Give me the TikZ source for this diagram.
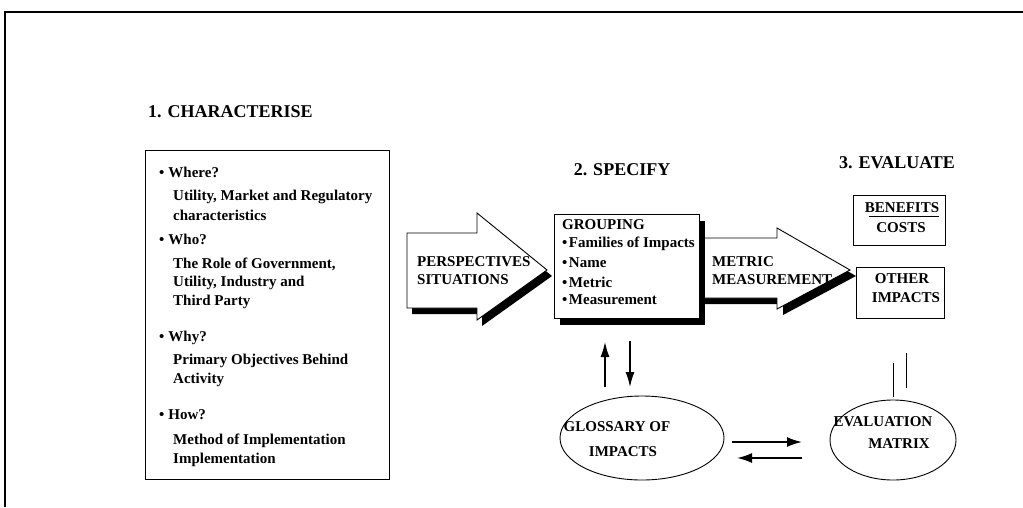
\documentclass[tikz,border=0pt]{standalone}
\usepackage{fontspec}
\setmainfont{Liberation Serif}
\usetikzlibrary{arrows.meta,shapes.geometric}
\begin{document}
\begin{tikzpicture}[x=1pt,y=-1pt,
  txt/.style={font=\bfseries\fontsize{15}{17}\selectfont, inner sep=0pt, anchor=west},
  ctxt/.style={font=\bfseries\fontsize{15}{17}\selectfont, inner sep=0pt},
  ttl/.style={font=\bfseries\fontsize{18}{20}\selectfont, inner sep=0pt},
  boxstyle/.style={draw, line width=0.9pt, fill=white, inner sep=0pt, anchor=north west},
  shadowfill/.style={fill=black},
  blockarrow/.style={draw, line width=0.9pt, fill=white, line join=miter},
  oval/.style={draw, ellipse, line width=0.9pt, inner sep=0pt},
  vconn/.style={line width=1.3pt, -{Latex[length=15pt,width=9pt]}},
  hconn/.style={line width=1.8pt, -{Latex[length=15pt,width=10pt]}},
  plainline/.style={line width=1pt}
]
\useasboundingbox (0,0) rectangle (1023,507);
% outer frame (top and left edges)
\draw[line width=1.8pt] (5,507) -- (5,12) -- (1023,12);

% ---------- 1. CHARACTERISE ----------
\node[ttl, anchor=west] (t1) at (148,112) {1. CHARACTERISE};
\node[boxstyle, minimum width=244pt, minimum height=329pt] (charbox) at (145,150) {};
\node[txt] (w1) at (159,172) {•\hspace{4pt}Where?};
\node[txt] (w2) at (173,197) {Utility, Market and Regulatory};
\node[txt] (w3) at (173,215) {characteristics};
\node[txt] (h1) at (159,239) {•\hspace{4pt}Who?};
\node[txt] (h2) at (173,264) {The Role of Government,};
\node[txt] (h3) at (173,283) {Utility, Industry and};
\node[txt] (h4) at (173,302) {Third Party};
\node[txt] (y1) at (159,338) {•\hspace{4pt}Why?};
\node[txt] (y2) at (173,361) {Primary Objectives Behind};
\node[txt] (y3) at (173,380) {Activity};
\node[txt] (o1) at (159,415) {•\hspace{4pt}How?};
\node[txt] (o2) at (173,441) {Method of Implementation};
\node[txt] (o3) at (173,460) {Implementation};

% ---------- block arrow 1 ----------
\fill[shadowfill] (412,239) -- (482,239) -- (482,219) -- (552,276) -- (482,326) -- (482,314) -- (412,314) -- cycle;
\draw[blockarrow] (407,233) -- (477,233) -- (477,213) -- (547,270) -- (477,320) -- (477,308) -- (407,308) -- cycle;
\node[txt] (p1) at (417,262) {PERSPECTIVES};
\node[txt] (p2) at (417,280) {SITUATIONS};

% ---------- 2. SPECIFY ----------
\node[ttl] (t2) at (622,170) {2. SPECIFY};
\fill[shadowfill] (560,221) rectangle (705,325);
\node[boxstyle, minimum width=145pt, minimum height=104pt] (group) at (554,214) {};
\node[txt] (g0) at (562,225) {GROUPING};
\node[txt] (g1) at (562,244) {•\hspace{1.5pt}Families of Impacts};
\node[txt] (g2) at (562,263) {•\hspace{1.5pt}Name};
\node[txt] (g3) at (562,282) {•\hspace{1.5pt}Metric};
\node[txt] (g4) at (562,300) {•\hspace{1.5pt}Measurement};

% ---------- block arrow 2 ----------
\fill[shadowfill] (705,244) -- (783,244) -- (783,234) -- (856,276) -- (783,315) -- (783,304) -- (705,304) -- cycle;
\draw[blockarrow] (705,238) -- (777,238) -- (777,228) -- (850,270) -- (777,309) -- (777,298) -- (705,298);
\node[txt] (m1) at (712,262) {METRIC};
\node[txt] (m2) at (712,280) {MEASUREMENT};

% ---------- 3. EVALUATE ----------
\node[ttl] (t3) at (897,163) {3. EVALUATE};
\node[boxstyle, minimum width=92pt, minimum height=50pt] (bc) at (853,195) {};
\node[ctxt] (b1) at (902,208) {BENEFITS};
\node[ctxt] (b2) at (901,228) {COSTS};
\draw[plainline] (b1.south west) ++(4,3) coordinate (fr1) -- (fr1 -| b1.south east);
\node[boxstyle, minimum width=88pt, minimum height=51pt] (oi) at (856,267) {};
\node[ctxt] (oi1) at (902,279) {OTHER};
\node[ctxt] (oi2) at (906,298) {IMPACTS};

% ---------- ellipses ----------
\node[oval, minimum width=164pt, minimum height=84pt] (gloss) at (642,438) {};
\node[ctxt] (gl1) at (617,427) {GLOSSARY OF};
\node[ctxt] (gl2) at (623,452) {IMPACTS};
\node[oval, minimum width=126pt, minimum height=80pt] (evm) at (893,440) {};
\node[ctxt] (ev1) at (883,422) {EVALUATION};
\node[ctxt] (ev2) at (899,444) {MATRIX};

% ---------- connectors ----------
\coordinate (ua) at (605,387);
\coordinate (ub) at (605,342);
\coordinate (da) at (630,341);
\coordinate (db) at (630,387);
\draw[vconn] (ua) -- (ub);
\draw[vconn] (da) -- (db);

\coordinate (ra) at (732,442);
\coordinate (rb) at (802,442);
\coordinate (la) at (802,458);
\coordinate (lb) at (737,458);
\draw[hconn] (ra) -- (rb);
\draw[hconn] (la) -- (lb);

\coordinate (v1a) at (893,363);
\coordinate (v1b) at (893,397);
\coordinate (v2a) at (906,353);
\coordinate (v2b) at (906,388);
\draw[plainline] (v1a) -- (v1b);
\draw[plainline] (v2a) -- (v2b);
\end{tikzpicture}
\end{document}
